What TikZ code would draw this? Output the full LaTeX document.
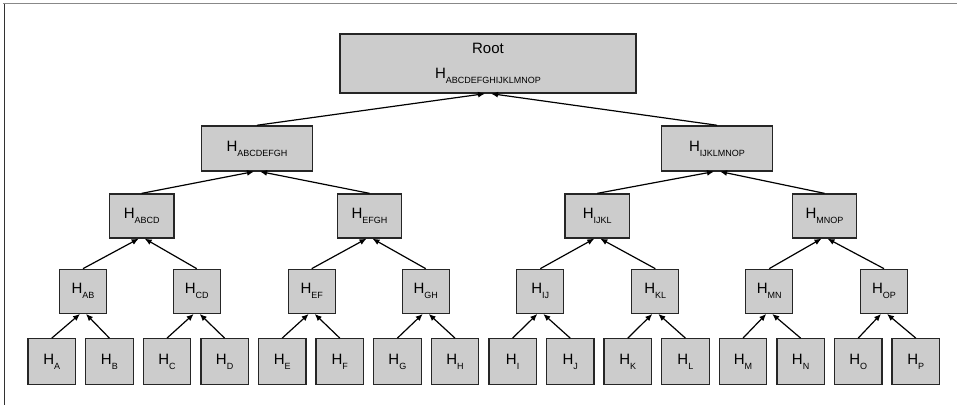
\documentclass[tikz,border=0pt]{standalone}
\usepackage{fontspec}
\setmainfont{Liberation Sans}
\usetikzlibrary{arrows.meta}
\definecolor{boxfill}{RGB}{204,204,204}
\definecolor{boxline}{RGB}{38,38,38}
\definecolor{framegray}{RGB}{136,136,136}
\definecolor{framedark}{RGB}{50,50,50}
\newcommand{\hsh}[1]{H\raisebox{-5pt}{\fontsize{9}{10}\selectfont #1}}

\begin{document}
\begin{tikzpicture}[
x=1pt,y=-1pt,
hash/.style={draw=boxline,line width=1.3pt,fill=boxfill,inner sep=0pt,align=center,font=\fontsize{15}{18}\selectfont},
leaf/.style={hash,minimum width=47.5pt,minimum height=45.5pt},
pair/.style={hash,minimum width=47pt,minimum height=44pt},
quad/.style={hash,minimum width=64.5pt,minimum height=44pt},
half/.style={hash,minimum width=111pt,minimum height=45pt},
arr/.style={-{Latex[length=7pt,width=6pt]},line width=1.2pt,draw=black}
]
\useasboundingbox (0,0) rectangle (957,405);
\draw[framegray,line width=1.2pt] (3,3.5) -- (957,3.5);
\draw[framedark,line width=1pt] (4,3.5) -- (4,405);

\node[hash,minimum width=296pt,minimum height=59pt] (root) at (488,63.5) {Root\\[7.6pt]\hsh{ABCDEFGHIJKLMNOP}};

\node[half] (hABCDEFGH) at (257,148.4) {\hsh{ABCDEFGH}};
\node[half] (hIJKLMNOP) at (717,148.4) {\hsh{IJKLMNOP}};

\node[quad] (hABCD) at (141.7,216) {\hsh{ABCD}};
\node[quad] (hEFGH) at (369.5,216) {\hsh{EFGH}};
\node[quad] (hIJKL) at (597.3,216) {\hsh{IJKL}};
\node[quad] (hMNOP) at (824.5,216) {\hsh{MNOP}};

\node[pair] (hAB) at (83,291.3) {\hsh{AB}};
\node[pair] (hCD) at (196.7,291.3) {\hsh{CD}};
\node[pair] (hEF) at (311.7,291.3) {\hsh{EF}};
\node[pair] (hGH) at (425.7,291.3) {\hsh{GH}};
\node[pair] (hIJ) at (540.3,291.3) {\hsh{IJ}};
\node[pair] (hKL) at (655.3,291.3) {\hsh{KL}};
\node[pair] (hMN) at (769.2,291.3) {\hsh{MN}};
\node[pair] (hOP) at (884,291.3) {\hsh{OP}};

% leaves
\foreach \l [count=\i from 0] in {A,B,C,D,E,F,G,H,I,J,K,L,M,N,O,P}
  \node[leaf] (h\l) at (51.8+57.6*\i,361.5) {\hsh{\l}};

% hashes point up to their parent
\foreach \c/\p/\d in {A/AB/-3,B/AB/3,C/CD/-3,D/CD/3,E/EF/-3,F/EF/3,G/GH/-3,H/GH/3,
  I/IJ/-3,J/IJ/3,K/KL/-3,L/KL/3,M/MN/-3,N/MN/3,O/OP/-3,P/OP/3,
  AB/ABCD/-3,CD/ABCD/3,EF/EFGH/-3,GH/EFGH/3,IJ/IJKL/-3,KL/IJKL/3,MN/MNOP/-3,OP/MNOP/3,
  ABCD/ABCDEFGH/-3,EFGH/ABCDEFGH/3,IJKL/IJKLMNOP/-3,MNOP/IJKLMNOP/3}
  \draw[arr] (h\c.north) -- ([xshift=\d pt]h\p.south);
\draw[arr] (hABCDEFGH.north) -- ([xshift=-3pt]root.south);
\draw[arr] (hIJKLMNOP.north) -- ([xshift=3pt]root.south);
\end{tikzpicture}
\end{document}
